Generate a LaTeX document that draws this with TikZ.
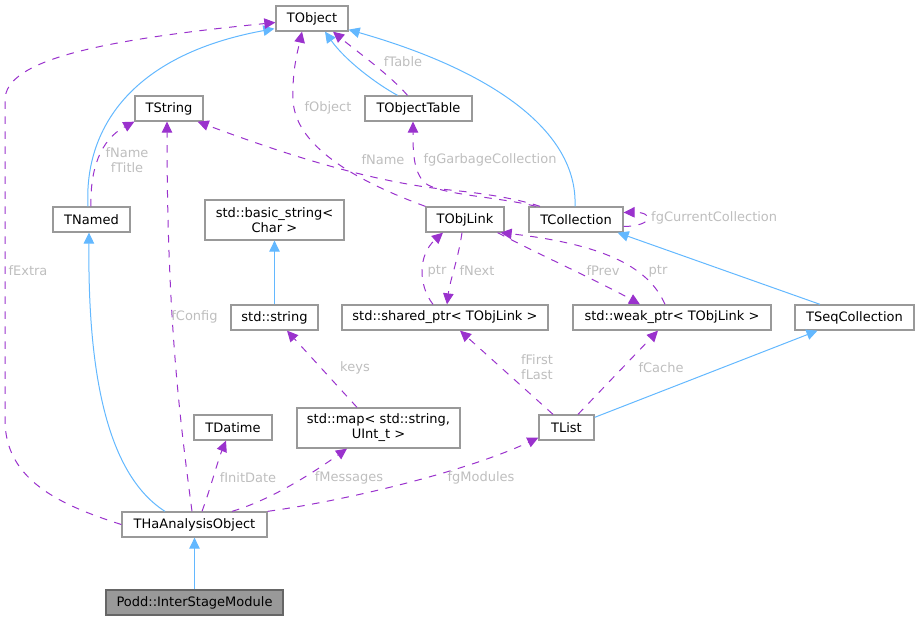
\documentclass[tikz,border=0pt]{standalone}
\usepackage{fontspec}
\setmainfont{DejaVu Sans}
\usetikzlibrary{arrows.meta,calc}
\definecolor{inhc}{HTML}{63B8FF}
\definecolor{usec}{HTML}{9A32CD}
\definecolor{labc}{HTML}{BEBEBE}
\definecolor{boxc}{HTML}{999999}
\begin{document}
\begin{tikzpicture}[x=1pt,y=-1pt,
  every node/.style={font=\fontsize{13}{15}\selectfont},
  box/.style={draw=boxc,line width=1.3pt,fill=white,inner sep=0pt,minimum height=25pt,align=center},
  mainbox/.style={box,fill=boxc,draw=black!60},
  inh/.style={draw=inhc,line width=1pt,-{Triangle[length=11pt,width=10.5pt]}},
  use/.style={draw=usec,line width=1pt,dash pattern=on 7.5pt off 7.5pt,-{Triangle[length=11pt,width=10.5pt]}},
  lab/.style={text=labc,inner sep=0pt,align=center}]
\path[use as bounding box] (0,0) rectangle (919,621);
% nodes
\node[box,minimum width=72pt] (TObject) at (312,18.5) {TObject};
\node[box,minimum width=68pt] (TString) at (169,108.5) {TString};
\node[box,minimum width=107pt] (TObjectTable) at (418.5,108.5) {TObjectTable};
\node[box,minimum width=77pt] (TNamed) at (91.5,219.5) {TNamed};
\node[box,minimum width=139pt,minimum height=40pt] (basicstr) at (274.5,220) {std::basic\_string\textless\\Char \textgreater};
\node[box,minimum width=78pt] (TObjLink) at (465,219.5) {TObjLink};
\node[box,minimum width=94pt] (TCollection) at (576,219.5) {TCollection};
\node[box,minimum width=87pt] (stdstring) at (274.5,317.5) {std::string};
\node[box,minimum width=206pt] (shared) at (445,317.5) {std::shared\_ptr\textless{} TObjLink \textgreater};
\node[box,minimum width=198pt] (weak) at (672,317.5) {std::weak\_ptr\textless{} TObjLink \textgreater};
\node[box,minimum width=119pt] (TSeqColl) at (854.5,317.5) {TSeqCollection};
\node[box,minimum width=78pt] (TDatime) at (233,427.5) {TDatime};
\node[box,minimum width=163pt,minimum height=40pt] (map) at (378.5,428) {std::map\textless{} std::string,\\UInt\_t \textgreater};
\node[box,minimum width=55pt] (TList) at (566.5,427.5) {TList};
\node[box,minimum width=145pt] (THa) at (194.5,524.5) {THaAnalysisObject};
\node[mainbox,minimum width=177pt] (Podd) at (194.5,602.5) {Podd::InterStageModule};
% inheritance edges
\draw[inh] ($(TNamed.north)+(-3.5,0)$) .. controls (84,130) and (130,55) .. ($(TObject.south west)+(-1,-3)$);
\draw[inh] ($(TObjectTable.north)+(-21,0)$) .. controls (375,83) and (345,60) .. ($(TObject.south)+(13,0)$);
\draw[inh] ($(TCollection.north)+(-1,0)$) .. controls (578,130) and (490,70) .. ($(TObject.south east)+(0,-2)$);
\draw[inh] ($(TSeqColl.north)+(-34.5,0)$) -- ($(TCollection.south east)+(-6,0)$);
\draw[inh] ($(TList.north east)+(0,3)$) -- ($(TSeqColl.south)+(-37,0)$);
\draw[inh] (stdstring.north) -- (basicstr.south);
\draw[inh] ($(THa.north)+(-29.5,0)$) .. controls (100,470) and (88,350) .. ($(TNamed.south)+(-2.5,0)$);
\draw[inh] (Podd.north) -- (THa.south);
% usage edges
\draw[use] (THa.west) .. controls (60,505) and (5,480) .. (5,420) -- (5,100) .. controls (5,60) and (100,40) .. ($(TObject.west)+(0,4)$);
\node[lab] (lExtra) at (28,271) {fExtra};
\draw[use] ($(TObjectTable.north)+(-11,0)$) .. controls (390,75) and (355,50) .. ($(TObject.south)+(21,0)$);
\node[lab] (lTable) at (403,62) {fTable};
\draw[use] (TObjLink.north west) .. controls (340,175) and (295,140) .. (293,100) .. controls (292,70) and (298,50) .. ($(TObject.south)+(-10,0)$);
\node[lab] (lObject) at (328,108) {fObject};
\draw[use] ($(TCollection.north)+(-36,0)$) .. controls (515,198) and (480,193) .. (450,190) .. controls (380,183) and (300,160) .. ($(TString.south east)+(-6,0)$);
\node[lab] (lName) at (383,160) {fName};
\draw[use] ($(TCollection.north)+(-40,0)$) .. controls (500,197) and (440,195) .. (425,183) .. controls (413,172) and (413,150) .. ($(TObjectTable.south)+(-5.5,0)$);
\node[lab] (lGarb) at (490,160) {fgGarbageCollection};
\draw[use] ($(TCollection.east)+(0,7)$) .. controls (654,226) and (654,212) .. ($(TCollection.east)+(0,-7)$);
\node[lab,anchor=west] (lCur) at (651,218) {fgCurrentCollection};
\draw[use] ($(TObjLink.south)+(-3,0)$) .. controls (458,260) and (450,280) .. ($(shared.north)+(2,0)$);
\node[lab] (lNext) at (477,271) {fNext};
\draw[use] ($(shared.north)+(-12,0)$) .. controls (418,285) and (418,255) .. ($(TObjLink.south)+(-22,0)$);
\node[lab] (lPtr1) at (437,271) {ptr};
\draw[use] ($(TObjLink.south east)+(-7,0)$) .. controls (540,255) and (600,282) .. ($(weak.north)+(-32,0)$);
\node[lab] (lPrev) at (603,271) {fPrev};
\draw[use] ($(weak.north)+(-7,0)$) .. controls (650,270) and (610,245) .. ($(TObjLink.south east)+(-4,0)$);
\node[lab] (lPtr2) at (658,271) {ptr};
\draw[use] ($(TList.north)+(-13.5,0)$) -- ($(shared.south)+(15,0)$);
\node[lab] (lFirst) at (537,367) {fFirst\\fLast};
\draw[use] ($(TList.north)+(11.5,0)$) -- ($(weak.south)+(-14,0)$);
\node[lab] (lCache) at (661,368) {fCache};
\draw[use] ($(map.north)+(-21.5,0)$) -- ($(stdstring.south)+(12.5,0)$);
\node[lab] (lKeys) at (355,368) {keys};
\draw[use] ($(THa.north)+(-2.5,0)$) .. controls (180,420) and (167,320) .. ($(TString.south)+(-2,0)$);
\node[lab] (lConfig) at (194.5,317) {fConfig};
\draw[use] ($(THa.north)+(7.5,0)$) .. controls (210,490) and (218,460) .. ($(TDatime.south)+(-7,0)$);
\node[lab] (lInit) at (248,478) {fInitDate};
\draw[use] ($(THa.north)+(37.5,0)$) .. controls (270,500) and (310,475) .. ($(map.south)+(-31.5,0)$);
\node[lab] (lMsg) at (349,478) {fMessages};
\draw[use] (THa.north east) .. controls (350,500) and (470,470) .. ($(TList.south west)+(0,-3)$);
\node[lab] (lMod) at (481,478) {fgModules};
\draw[use] ($(TNamed.north)+(-0.5,0)$) .. controls (90,170) and (100,140) .. ($(TString.south west)+(0,0)$);
\node[lab] (lNT) at (127,160) {fName\\fTitle};
\end{tikzpicture}
\end{document}
